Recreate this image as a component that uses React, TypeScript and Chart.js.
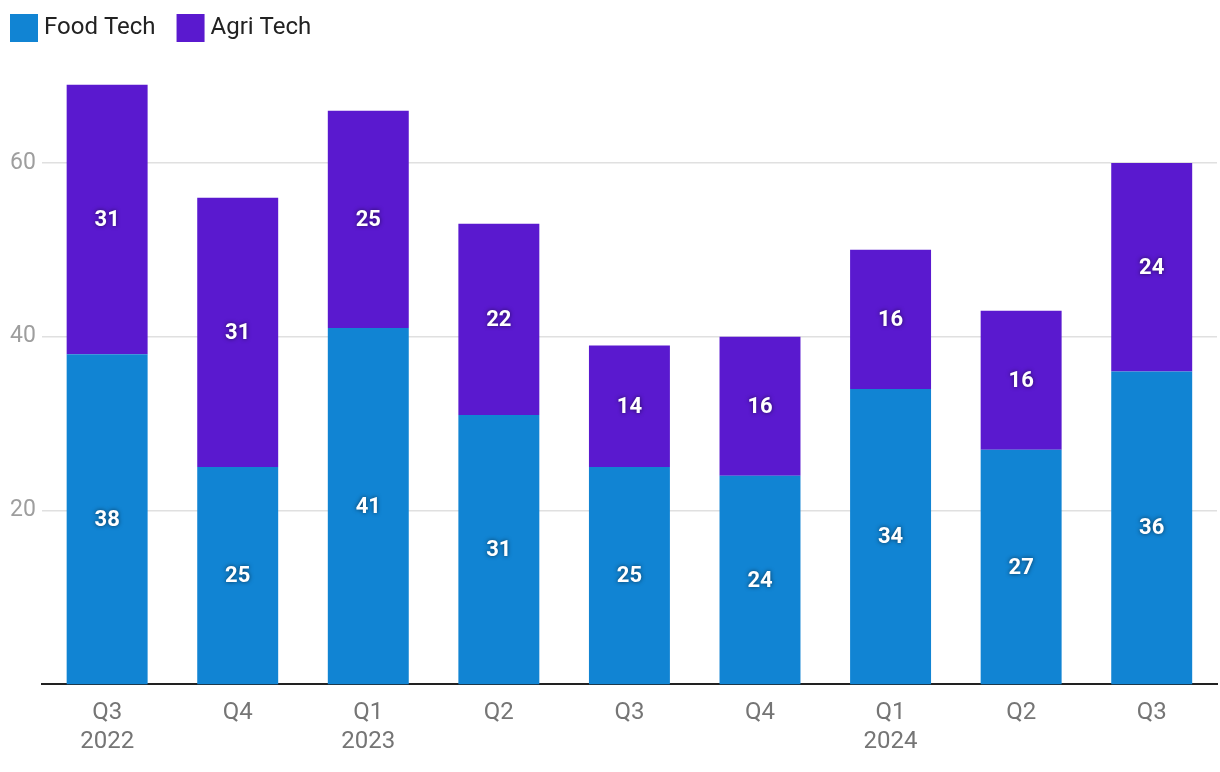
import React, { useEffect, useRef } from "react";
import { Chart, registerables } from "chart.js";

Chart.register(...registerables);

const quarters = ["Q3", "Q4", "Q1", "Q2", "Q3", "Q4", "Q1", "Q2", "Q3"];
const years = ["2022", "", "2023", "", "", "", "2024", "", ""];
const foodTech = [38, 25, 41, 31, 25, 24, 34, 27, 36];
const agriTech = [31, 31, 25, 22, 14, 16, 16, 16, 24];
const yTicks = [20, 40, 60];

const labelPlugin = {
  id: "segLabels",
  afterDatasetsDraw(chart: any) {
    const ctx = chart.ctx;
    ctx.save();
    ctx.font = "bold 22px Roboto";
    ctx.textAlign = "center";
    ctx.textBaseline = "middle";
    ctx.fillStyle = "#ffffff";
    ctx.shadowColor = "rgba(0,0,0,0.6)";
    ctx.shadowBlur = 4;
    chart.data.datasets.forEach((ds: any, i: number) => {
      const meta = chart.getDatasetMeta(i);
      meta.data.forEach((bar: any, j: number) => {
        const y = (bar.y + bar.base) / 2;
        ctx.fillText(String(ds.data[j]), bar.x, y + 1);
      });
    });
    ctx.restore();
  },
};

const legendPlugin = {
  id: "customLegend",
  afterDraw(chart: any) {
    const ctx = chart.ctx;
    ctx.save();
    ctx.font = "24px Roboto";
    ctx.textBaseline = "middle";
    ctx.textAlign = "left";
    let x = 10;
    const top = 14;
    const box = 28;
    chart.data.datasets.forEach((ds: any) => {
      ctx.fillStyle = ds.backgroundColor;
      ctx.fillRect(x, top, box, box);
      ctx.fillStyle = "#222222";
      const tx = x + box + 6;
      ctx.fillText(ds.label, tx, top + box / 2);
      x = tx + ctx.measureText(ds.label).width + 21;
    });
    ctx.restore();
  },
};

export default function App() {
  const ref = useRef<HTMLCanvasElement>(null);
  useEffect(() => {
    const labels = quarters.map((q, i) => (years[i] ? [q, years[i]] : q));
    const chart = new Chart(ref.current!, {
      type: "bar",
      data: {
        labels,
        datasets: [
          { label: "Food Tech", data: foodTech, backgroundColor: "#1184d3" },
          { label: "Agri Tech", data: agriTech, backgroundColor: "#5a19cf" },
        ],
      },
      options: {
        animation: false,
        responsive: false,
        maintainAspectRatio: false,
        layout: { padding: { left: 4, right: 3, top: 76, bottom: 2 } },
        datasets: { bar: { barPercentage: 1, categoryPercentage: 0.62 } },
        plugins: {
          legend: { display: false },
          tooltip: { enabled: false },
        },
        scales: {
          x: {
            stacked: true,
            grid: { display: false, drawTicks: false },
            border: { color: "#222222", width: 2 },
            ticks: {
              color: "#757575",
              font: { family: "Roboto", size: 24 },
              padding: 14,
              maxRotation: 0,
              autoSkip: false,
            },
          },
          y: {
            stacked: true,
            min: 0,
            max: 70,
            afterBuildTicks: (axis: any) => {
              axis.ticks = yTicks.map((v) => ({ value: v }));
            },
            grid: { color: "#e0e0e0", lineWidth: 1.5, drawTicks: false },
            border: { display: false },
            ticks: {
              color: "#9e9e9e",
              font: { family: "Roboto", size: 23 },
              padding: 6,
            },
          },
        },
      },
      plugins: [labelPlugin, legendPlugin],
    });
    return () => chart.destroy();
  }, []);
  return (
    <div style={{ position: "fixed", left: 0, top: 0, width: 1220, height: 772, background: "#fff" }}>
      <canvas ref={ref} width={1220} height={772} style={{ width: 1220, height: 772 }} />
    </div>
  );
}
